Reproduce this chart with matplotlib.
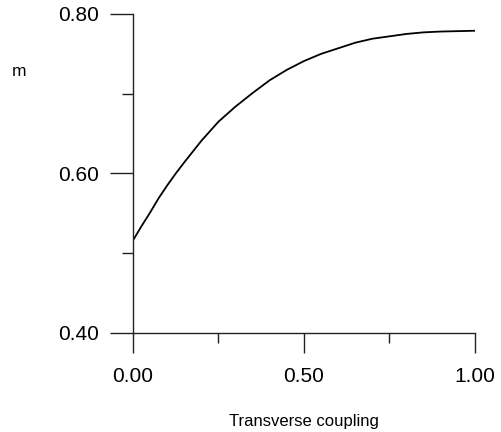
import numpy as np
import matplotlib
matplotlib.use("Agg")
import matplotlib.pyplot as plt

# values
coupling = [0.00, 0.025, 0.05, 0.075, 0.10, 0.125, 0.15, 0.20, 0.25, 0.30, 0.35, 0.40, 0.45,
            0.50, 0.55, 0.60, 0.65, 0.70, 0.75, 0.80, 0.85, 0.90, 0.95, 1.00]
m_values = [0.516, 0.534, 0.551, 0.569, 0.585, 0.600, 0.614, 0.641, 0.665, 0.684, 0.701, 0.717, 0.730,
            0.741, 0.750, 0.757, 0.764, 0.769, 0.772, 0.775, 0.777, 0.778, 0.7785, 0.779]

x_ticks = [0.0, 0.5, 1.0]
x_minor = [0.25, 0.75]
y_ticks = [0.40, 0.60, 0.80]
y_minor = [0.50, 0.70]

plt.rcParams['font.family'] = ['Liberation Sans', 'DejaVu Sans']

fig = plt.figure(figsize=(5.02, 4.32), dpi=100)
ax = fig.add_axes([0.2649, 0.2292, 0.6813, 0.7384])

ax.plot(coupling, m_values, color="black", lw=1.3)

ax.set_xlim(0, 1)
ax.set_ylim(0.40, 0.80)
ax.set_xticks(x_ticks)
ax.set_xticks(x_minor, minor=True)
ax.set_yticks(y_ticks)
ax.set_yticks(y_minor, minor=True)
ax.set_xticklabels(["%.2f" % v for v in x_ticks])
ax.set_yticklabels(["%.2f" % v for v in y_ticks])

for s in ["top", "right"]:
    ax.spines[s].set_visible(False)
for s in ["left", "bottom"]:
    ax.spines[s].set_linewidth(1.0)
    ax.spines[s].set_color("#222222")

ax.tick_params(axis="x", which="major", direction="out", length=14.5, width=1.0,
               pad=10, labelsize=15, color="#222222")
ax.tick_params(axis="x", which="minor", direction="out", length=7.2, width=1.0, color="#222222")
ax.tick_params(axis="y", which="major", direction="out", length=16.5, width=1.0,
               pad=8, labelsize=15, color="#222222")
ax.tick_params(axis="y", which="minor", direction="out", length=8, width=1.0, color="#222222")

ax.set_xlabel("Transverse coupling", fontsize=12, labelpad=20)
fig.text(19 / 502, 1 - 72 / 432, "m", fontsize=12.5, ha="center", va="center")

fig.savefig("out.png", dpi=100)
